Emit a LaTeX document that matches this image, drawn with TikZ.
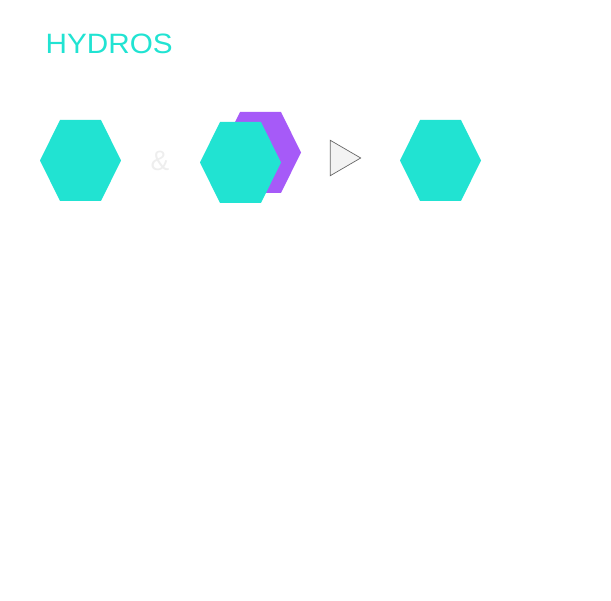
\documentclass[tikz,border=0pt]{standalone}
\usepackage{fontspec}
\setmainfont{Liberation Sans}
\usetikzlibrary{positioning}
\definecolor{cTeal}{HTML}{21E3D2}
\definecolor{cPurple}{HTML}{A65AF8}
\definecolor{cAmp}{HTML}{EEEEEE}
\definecolor{cTriFill}{HTML}{F3F3F3}
\definecolor{cEdge}{HTML}{666666}
\tikzset{
  pics/hexa/.style={code={
    \fill[#1] (-40.5,0) -- (-20.5,40.5) -- (20.5,40.5) -- (40.5,0) -- (20.5,-40.5) -- (-20.5,-40.5) -- cycle;}},
  big/.style={font=\fontsize{28}{34}\selectfont,inner sep=0pt},
  arrowtri/.style={draw=cEdge,fill=cTriFill,line width=0.7pt,line join=miter},
}

\begin{document}
\begin{tikzpicture}[x=1pt,y=-1pt]
    \useasboundingbox (0,0) rectangle (611,601);
    \node[big,text=cTeal,anchor=base west,xscale=1.06] (title) at (45.5,53.8) {HYDROS};
    % left hexagon
    \pic at (80.5,160.5) {hexa=cTeal};
    \node[big,text=cAmp,anchor=base] (amp) at (160,170.7) {\&};
    % stacked pair
    \pic at (260.5,152.5) {hexa=cPurple};
    \pic at (240.5,162.5) {hexa=cTeal};
    % the arrow head
    \draw[arrowtri] (330.3,140.3) -- (360.7,158) -- (330.3,175.7) -- cycle;
    % result
    \pic at (440.5,160.5) {hexa=cTeal};
  \end{tikzpicture}
\end{document}
